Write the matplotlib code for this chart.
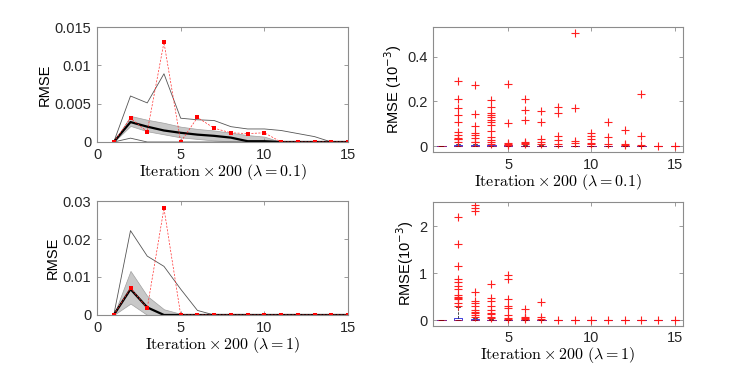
import numpy as np
import matplotlib
matplotlib.use("Agg")
import matplotlib.pyplot as plt

plt.rcParams['font.family'] = ['Liberation Sans', 'DejaVu Sans']

iters = np.arange(1, 16)

# left top (lambda = 0.1)
tl_mean = [0, 0.0026, 0.0020, 0.0015, 0.0012, 0.00096, 0.0008, 0.00057, 0.0001, 0.0001, 0, 0, 0, 0, 0]
tl_lo = [0, 0.0021, 0.0014, 0.0010, 0.0006, 0.0004, 0.0002, 0.0001, 0, 0, 0, 0, 0, 0, 0]
tl_hi = [0, 0.0034, 0.0029, 0.0025, 0.0020, 0.0017, 0.0015, 0.0012, 0.0009, 0.0007, 0, 0, 0, 0, 0]
tl_max = [0, 0.0060, 0.0051, 0.0089, 0.0031, 0.0029, 0.0028, 0.0020, 0.0017, 0.0017, 0.0015, 0.0011, 0.0007, 0, 0]
tl_min = [0, 0.0005, 0, 0, 0, 0, 0, 0, 0, 0, 0, 0, 0, 0, 0]
tl_red = [0, 0.0031, 0.00135, 0.0130, 0, 0.0032, 0.0018, 0.0012, 0.0011, 0.0012, 0, 0, 0, 0, 0]

# left bottom (lambda = 1)
bl_mean = [0, 0.0068, 0.0020, 0, 0, 0, 0, 0, 0, 0, 0, 0, 0, 0, 0]
bl_lo = [0, 0.0030, 0, 0, 0, 0, 0, 0, 0, 0, 0, 0, 0, 0, 0]
bl_hi = [0, 0.0116, 0.0050, 0.0015, 0.0003, 0, 0, 0, 0, 0, 0, 0, 0, 0, 0]
bl_max = [0, 0.0222, 0.0155, 0.0128, 0.0068, 0.0012, 0, 0, 0, 0, 0, 0, 0, 0, 0]
bl_red = [0, 0.0071, 0.0018, 0.0281, 0, 0, 0, 0, 0, 0, 0, 0, 0, 0, 0]

# right top boxplot stats (x 1e-3)
tr_med = [0, 0.002, 0.002, 0.001, 0.001, 0.001, 0.001, 0, 0, 0, 0, 0, 0, 0, 0]
tr_q3 = [0, 0.005, 0.005, 0.004, 0.004, 0.003, 0.003, 0, 0, 0, 0, 0, 0, 0, 0]
tr_whi = [0, 0.012, 0.012, 0.01, 0.008, 0.006, 0.006, 0.002, 0.002, 0.002, 0.002, 0.002, 0.002, 0, 0]
tr_fliers = [
    [],
    [0.29, 0.21, 0.17, 0.14, 0.11, 0.065, 0.05, 0.037, 0.033, 0.03, 0.02],
    [0.274, 0.144, 0.092, 0.057, 0.048, 0.035, 0.02, 0.017],
    [0.207, 0.174, 0.15, 0.14, 0.13, 0.117, 0.107, 0.095, 0.069, 0.042, 0.027, 0.017, 0.012],
    [0.28, 0.102, 0.015, 0.009, 0.005],
    [0.21, 0.162, 0.115, 0.02, 0.015, 0.009],
    [0.156, 0.11, 0.03, 0.02, 0.009],
    [0.176, 0.147, 0.047, 0.027, 0.012],
    [0.506, 0.17, 0.024, 0.015],
    [0.06, 0.047, 0.03, 0.015, 0.009],
    [0.107, 0.04, 0.009],
    [0.071, 0.012, 0.005],
    [0.233, 0.045, 0.005],
    [0.001],
    [0.003],
]

# right bottom boxplot stats (x 1e-3)
br_med = [0, 0.01, 0.005, 0.002, 0.001, 0.001, 0.001, 0, 0, 0, 0, 0, 0, 0, 0]
br_q3 = [0, 0.04, 0.02, 0.01, 0.005, 0.003, 0.003, 0, 0, 0, 0, 0, 0, 0, 0]
br_whi = [0, 0.28, 0.04, 0.02, 0.01, 0.005, 0.005, 0, 0, 0, 0, 0, 0, 0, 0]
br_fliers = [
    [],
    [2.2, 1.62, 1.16, 0.87, 0.82, 0.73, 0.66, 0.54, 0.5, 0.47, 0.45, 0.36, 0.3],
    [2.45, 2.39, 2.32, 0.59, 0.41, 0.36, 0.29, 0.21, 0.18, 0.14, 0.1, 0.07],
    [0.76, 0.48, 0.41, 0.29, 0.21, 0.16, 0.12, 0.07, 0.035],
    [0.96, 0.88, 0.45, 0.29, 0.26, 0.1, 0.05, 0.02],
    [0.23, 0.07, 0.05, 0.02],
    [0.39, 0.07, 0.02],
    [0], [0], [0], [0], [0], [0], [0], [0],
]

AX_GRAY = '#8c8c8c'


def style(ax):
    for s in ax.spines.values():
        s.set_color(AX_GRAY)
        s.set_linewidth(0.8)
    ax.tick_params(direction='in', length=3, width=0.6, color=AX_GRAY,
                   top=True, right=True, labelsize=10.5, labelcolor='#262626', pad=4)


def line_panel(ax, mean, lo, hi, mx, mn, red, ymax, yticks, xlab):
    ax.fill_between(iters, lo, hi, color='#c8c8c8', edgecolor='#a0a0a0', linewidth=0.5)
    ax.plot(iters, mx, color='#555555', lw=0.6)
    ax.plot(iters, mn, color='#555555', lw=0.6)
    ax.plot(iters, mean, color='black', lw=1.6)
    ax.plot(iters, red, color='#ff3030', lw=0.5, ls=(0, (3, 2)), marker='s',
            markersize=3.5, markeredgewidth=0, markerfacecolor='red')
    ax.set_xlim(0, 15)
    ax.set_ylim(0, ymax)
    ax.set_xticks([0, 5, 10, 15])
    ax.set_yticks(yticks)
    ax.set_yticklabels([('%g' % t) for t in yticks])
    ax.set_ylabel('RMSE', fontsize=10.5, labelpad=2)
    ax.set_xlabel(xlab, fontsize=11.5, math_fontfamily='cm', labelpad=0)
    style(ax)


def box_panel(ax, med, q3, whi, fliers, ylim, yticks, ylab, xlab):
    stats = []
    for i in range(len(iters)):
        stats.append(dict(med=med[i], q1=0, q3=q3[i], whislo=0, whishi=whi[i],
                          fliers=fliers[i]))
    ax.bxp(stats, positions=iters, widths=0.5, showcaps=True,
           boxprops=dict(color='#4040e0', lw=0.7),
           medianprops=dict(color='red', lw=0.8, alpha=0.5),
           whiskerprops=dict(color='black', lw=0.5, ls='--'),
           capprops=dict(color='black', lw=0.5),
           flierprops=dict(marker='+', color='#ff2020', markeredgecolor='#ff2020',
                           markersize=6, markeredgewidth=0.8))
    ax.set_xlim(0.5, 15.5)
    ax.set_ylim(*ylim)
    ax.set_xticks([5, 10, 15])
    ax.set_xticklabels(['5', '10', '15'])
    ax.set_yticks(yticks)
    ax.set_yticklabels([('%g' % t) for t in yticks])
    ax.set_ylabel(ylab, fontsize=10.5, labelpad=2)
    ax.set_xlabel(xlab, fontsize=11.5, math_fontfamily='cm', labelpad=0)
    style(ax)


fig = plt.figure(figsize=(7.47, 3.67), dpi=100)

ax1 = fig.add_axes([0.1299, 0.6131, 0.336, 0.3133])
line_panel(ax1, tl_mean, tl_lo, tl_hi, tl_max, tl_min, tl_red, 0.015,
           [0, 0.005, 0.01, 0.015], r'$\mathrm{Iteration} \times 200\ (\lambda = 0.1)$')

ax3 = fig.add_axes([0.1299, 0.1417, 0.336, 0.3106])
line_panel(ax3, bl_mean, bl_lo, bl_hi, bl_max, [0] * 15, bl_red, 0.03,
           [0, 0.01, 0.02, 0.03], r'$\mathrm{Iteration} \times 200\ (\lambda = 1)$')

ax2 = fig.add_axes([0.5797, 0.5858, 0.3347, 0.3406])
box_panel(ax2, tr_med, tr_q3, tr_whi, tr_fliers, (-0.026, 0.533), [0, 0.2, 0.4],
          r'RMSE (10$^{-3}$)', r'$\mathrm{Iteration} \times 200\ (\lambda = 0.1)$')

ax4 = fig.add_axes([0.5797, 0.1125, 0.3347, 0.338])
box_panel(ax4, br_med, br_q3, br_whi, br_fliers, (-0.12, 2.52), [0, 1, 2],
          r'RMSE(10$^{-3}$)', r'$\mathrm{Iteration} \times 200\ (\lambda = 1)$')

fig.savefig('out.png', dpi=100)
